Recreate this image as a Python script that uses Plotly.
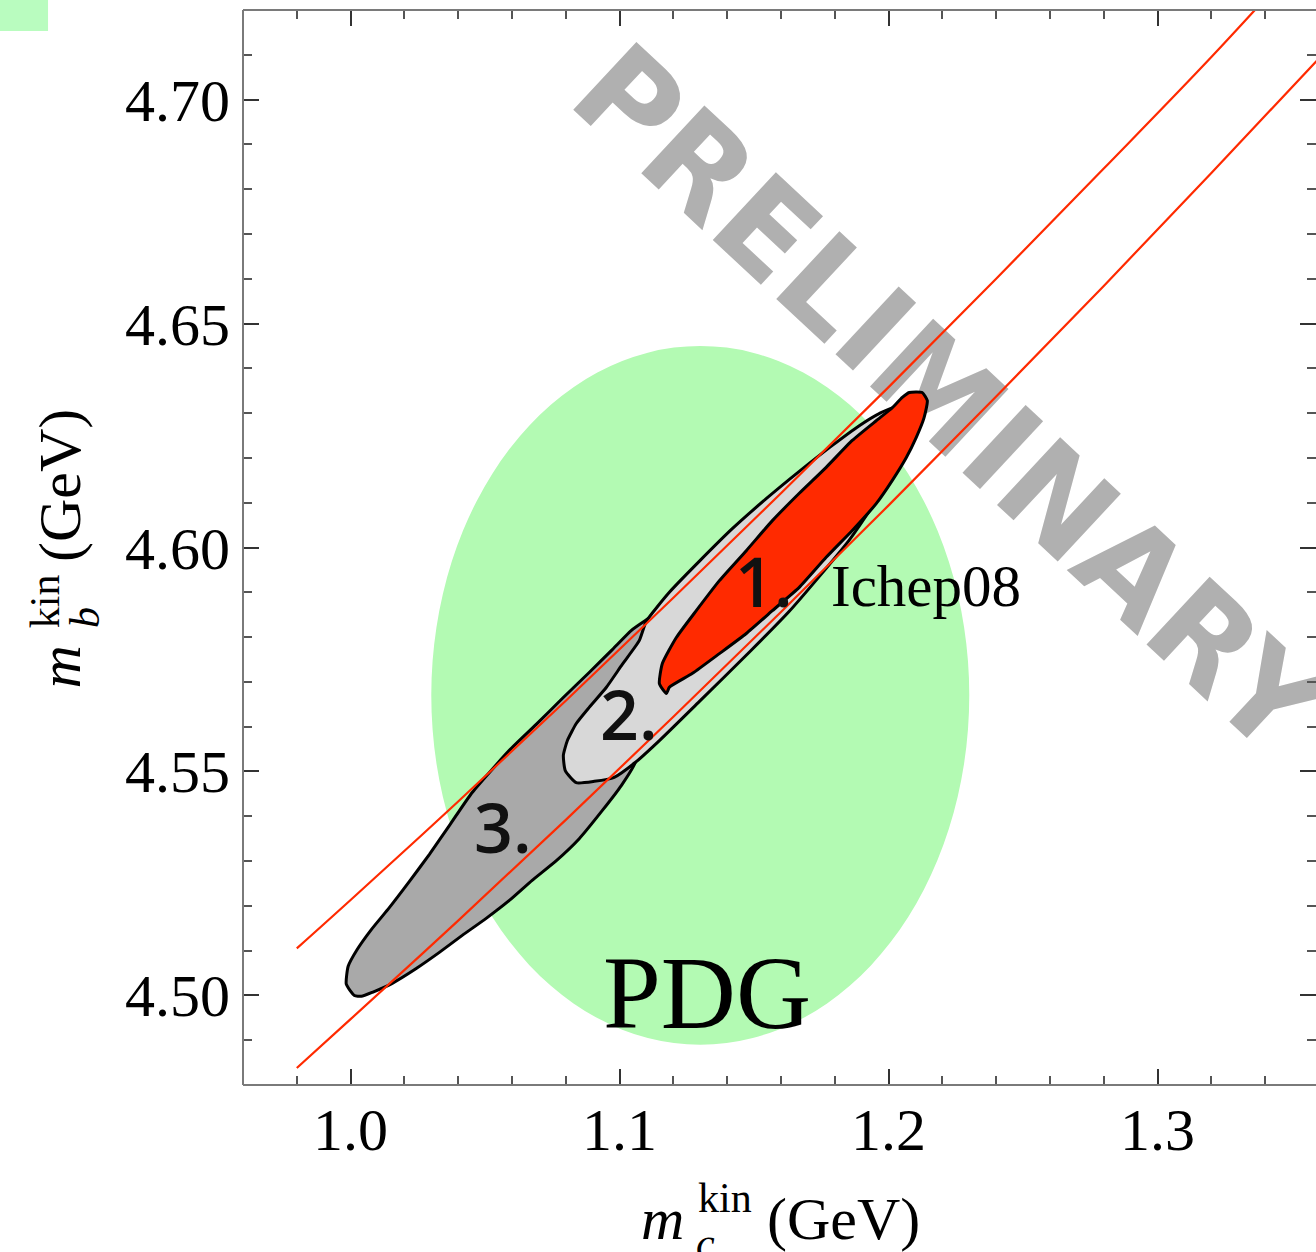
import plotly.graph_objects as go

# ---------------- data (GeV) ----------------
# PDG average: central values and 1-sigma half widths
pdg_mc, pdg_mc_err = 1.13, 0.10
pdg_mb, pdg_mb_err = 4.567, 0.078

# red constraint band edges
band_mc = [0.98, 1.00, 1.04, 1.08, 1.12, 1.16, 1.20, 1.24, 1.28, 1.32, 1.36]
band_upper_mb = [4.5105, 4.5213, 4.5433, 4.5658, 4.5888, 4.6121, 4.6358, 4.6600, 4.6846, 4.7095, 4.7357]
band_lower_mb = [4.4838, 4.4947, 4.5167, 4.5392, 4.5622, 4.5856, 4.6094, 4.6337, 4.6584, 4.6836, 4.7092]

# fit contour 3 (dark gray); its upper end tucks under contour 2
c3_mc = [1.0014, 0.9984, 0.9991, 1.0025, 1.0077, 1.0144, 1.0218, 1.0293, 1.0367, 1.0452,
         1.0590, 1.0690, 1.0787, 1.0887, 1.0973, 1.1044, 1.1096, 1.1155, 1.1058, 1.1007,
         1.0936, 1.0850, 1.0765, 1.0675, 1.0590, 1.0504, 1.0415, 1.0330, 1.0244, 1.0155,
         1.0081, 1.0040]
c3_mb = [4.5000, 4.5025, 4.5065, 4.5103, 4.5147, 4.5196, 4.5254, 4.5315, 4.5379, 4.5453,
         4.5547, 4.5605, 4.5663, 4.5721, 4.5772, 4.5815, 4.5837, 4.5859, 4.5520, 4.5469,
         4.5413, 4.5350, 4.5301, 4.5257, 4.5212, 4.5172, 4.5134, 4.5096, 4.5060, 4.5027,
         4.5007, 4.4998]

# fit contour 2 (light gray)
c2_mc = [1.0839, 1.0798, 1.0791, 1.0806, 1.0839, 1.0887, 1.0951, 1.1010, 1.1073, 1.1099,
         1.1185, 1.1296, 1.1419, 1.1545, 1.1668, 1.1791, 1.1891, 1.1965, 1.2021, 1.2058,
         1.2032, 1.1946, 1.1853, 1.1742, 1.1630, 1.1482, 1.1296, 1.1148, 1.1058, 1.0980, 1.0906]
c2_mb = [4.5475, 4.5502, 4.5536, 4.5569, 4.5607, 4.5643, 4.5688, 4.5739, 4.5792, 4.5835,
         4.5900, 4.5969, 4.6042, 4.6109, 4.6170, 4.6228, 4.6272, 4.6299, 4.6312, 4.6261,
         4.6183, 4.6098, 4.6016, 4.5935, 4.5857, 4.5766, 4.5656, 4.5569, 4.5520, 4.5487, 4.5478]

# fit contour 1 (Ichep08, red)
c1_mc = [1.2077, 1.2125, 1.2144, 1.2132, 1.2103, 1.2066, 1.2014, 1.1954, 1.1865, 1.1768,
         1.1668, 1.1568, 1.1471, 1.1371, 1.1271, 1.1185, 1.1174, 1.1148, 1.1159, 1.1211,
         1.1285, 1.1371, 1.1471, 1.1568, 1.1668, 1.1768, 1.1865, 1.1954, 1.2014, 1.2051]
c1_mb = [4.6346, 4.6346, 4.6328, 4.6290, 4.6246, 4.6201, 4.6150, 4.6098, 4.6038, 4.5978,
         4.5911, 4.5859, 4.5808, 4.5763, 4.5719, 4.5688, 4.5674, 4.5696, 4.5741, 4.5799,
         4.5859, 4.5926, 4.5993, 4.6060, 4.6121, 4.6179, 4.6239, 4.6283, 4.6312, 4.6335]

# contour labels: text, mc, mb
contour_labels = ["1.", "2.", "3."]
contour_label_mc = [1.1537, 1.1036, 1.0567]
contour_label_mb = [4.5926, 4.5629, 4.5377]

x_ticks = [1.0, 1.1, 1.2, 1.3]
y_ticks = [4.50, 4.55, 4.60, 4.65, 4.70]

# ---------------- styling ----------------
GREEN = "#b3fab3"
RED = "#ff2a00"
SERIF = "Liberation Serif"
SANS_LABEL = "Open Sans"

fig = go.Figure()

outline = dict(color="black", width=3)
fig.add_trace(go.Scatter(x=c3_mc + c3_mc[:1], y=c3_mb + c3_mb[:1], mode="lines",
                         fill="toself", fillcolor="#a9a9a9", line=dict(**outline, shape="spline", smoothing=0.5),
                         hoverinfo="skip"))
fig.add_trace(go.Scatter(x=c2_mc + c2_mc[:1], y=c2_mb + c2_mb[:1], mode="lines",
                         fill="toself", fillcolor="#d8d8d8", line=dict(**outline, shape="spline", smoothing=0.5),
                         hoverinfo="skip"))
fig.add_trace(go.Scatter(x=c1_mc + c1_mc[:1], y=c1_mb + c1_mb[:1], mode="lines",
                         fill="toself", fillcolor=RED, line=dict(**outline, shape="spline", smoothing=0.5),
                         hoverinfo="skip"))

for band in (band_upper_mb, band_lower_mb):
    fig.add_trace(go.Scatter(x=band_mc, y=band, mode="lines",
                             line=dict(color=RED, width=2.2, shape="spline"), hoverinfo="skip"))

shapes = [
    # PDG ellipse
    dict(type="circle", xref="x", yref="y", layer="below",
         x0=pdg_mc - pdg_mc_err, x1=pdg_mc + pdg_mc_err,
         y0=pdg_mb - pdg_mb_err, y1=pdg_mb + pdg_mb_err,
         fillcolor=GREEN, line=dict(width=0)),
    # watermark
    dict(type="rect", xref="paper", yref="paper", layer="below",
         x0=0.653, x1=0.673, y0=0.634, y1=0.654,
         line=dict(width=0), fillcolor="rgba(0,0,0,0)",
         label=dict(text="PRELIMINARY", textangle=43, textposition="middle center",
                    font=dict(family="DejaVu Sans", size=127, color="#b0b0b0", weight="bold"))),
    # green swatch at the corner
    dict(type="rect", xref="paper", yref="paper", layer="above",
         x0=-0.2265, x1=-0.1817, y0=0.9805, y1=1.02,
         fillcolor="#b9fcbf", line=dict(width=0)),
    # frame (left, top, bottom)
    dict(type="line", xref="paper", yref="paper", x0=0, x1=0, y0=0, y1=1,
         line=dict(color="#7a7a7a", width=2), layer="above"),
    dict(type="line", xref="paper", yref="paper", x0=0, x1=1, y0=1, y1=1,
         line=dict(color="#7a7a7a", width=2), layer="above"),
    dict(type="line", xref="paper", yref="paper", x0=0, x1=1, y0=0, y1=0,
         line=dict(color="#7a7a7a", width=2), layer="above"),
]

annotations = []
for txt, mx, my in zip(contour_labels, contour_label_mc, contour_label_mb):
    annotations.append(dict(x=mx, y=my, xref="x", yref="y", text=txt, showarrow=False,
                            font=dict(family=SANS_LABEL, size=68, color="#111111", weight=600),
                            xanchor="center", yanchor="middle"))
annotations.append(dict(x=1.178, y=4.5913, xref="x", yref="y", text="Ichep08", showarrow=False,
                        font=dict(family=SERIF, size=59, color="black"),
                        xanchor="left", yanchor="middle"))
annotations.append(dict(x=1.1326, y=4.5007, xref="x", yref="y", text="PDG", showarrow=False,
                        font=dict(family=SERIF, size=104, color="black"),
                        xanchor="center", yanchor="middle"))

# axis titles built from pieces so that sub/superscripts stack
def title_piece(text, x, y, xshift, yshift, size, angle=0):
    return dict(text=text, xref="paper", yref="paper", x=x, y=y, xshift=xshift, yshift=yshift,
                showarrow=False, textangle=angle, xanchor="center", yanchor="middle",
                font=dict(family=SERIF, size=size, color="black"))

annotations += [
    title_piece("<i>m</i>", 0.3914, 0, 0, -134, 60),
    title_piece("kin", 0.4492, 0, 0, -113, 42),
    title_piece("<i>c</i>", 0.4306, 0, 0, -158, 42),
    title_piece("(GeV)", 0.5601, 0, 0, -134, 60),
    title_piece("<i>m</i>", 0, 0.3884, -183, 0, 60, -90),
    title_piece("kin", 0, 0.4500, -198, 0, 42, -90),
    title_piece("<i>b</i>", 0, 0.4344, -158, 0, 42, -90),
    title_piece("(GeV)", 0, 0.5572, -183, 0, 60, -90),
]

axis_common = dict(showgrid=False, zeroline=False, showline=False, ticks="inside",
                   mirror="allticks", tickcolor="#333333", tickwidth=1.5, ticklen=16,
                   tickfont=dict(family=SERIF, size=60, color="black"))

fig.update_layout(
    width=1316, height=1252,
    margin=dict(l=243, r=0, t=10, b=167),
    paper_bgcolor="white", plot_bgcolor="white",
    showlegend=False,
    shapes=shapes, annotations=annotations,
    xaxis=dict(range=[0.96, 1.3589], tickvals=x_ticks, tickformat=".1f",
               minor=dict(ticks="inside", dtick=0.02, tick0=0.96, ticklen=9,
                          tickcolor="#555555", tickwidth=1.5, showgrid=False),
               ticklabelstandoff=4, **axis_common),
    yaxis=dict(range=[4.48, 4.72], tickvals=y_ticks, tickformat=".2f",
               minor=dict(ticks="inside", dtick=0.01, tick0=4.48, ticklen=9,
                          tickcolor="#555555", tickwidth=1.5, showgrid=False),
               ticklabelstandoff=12, **axis_common),
)

fig.write_html("out.html")
